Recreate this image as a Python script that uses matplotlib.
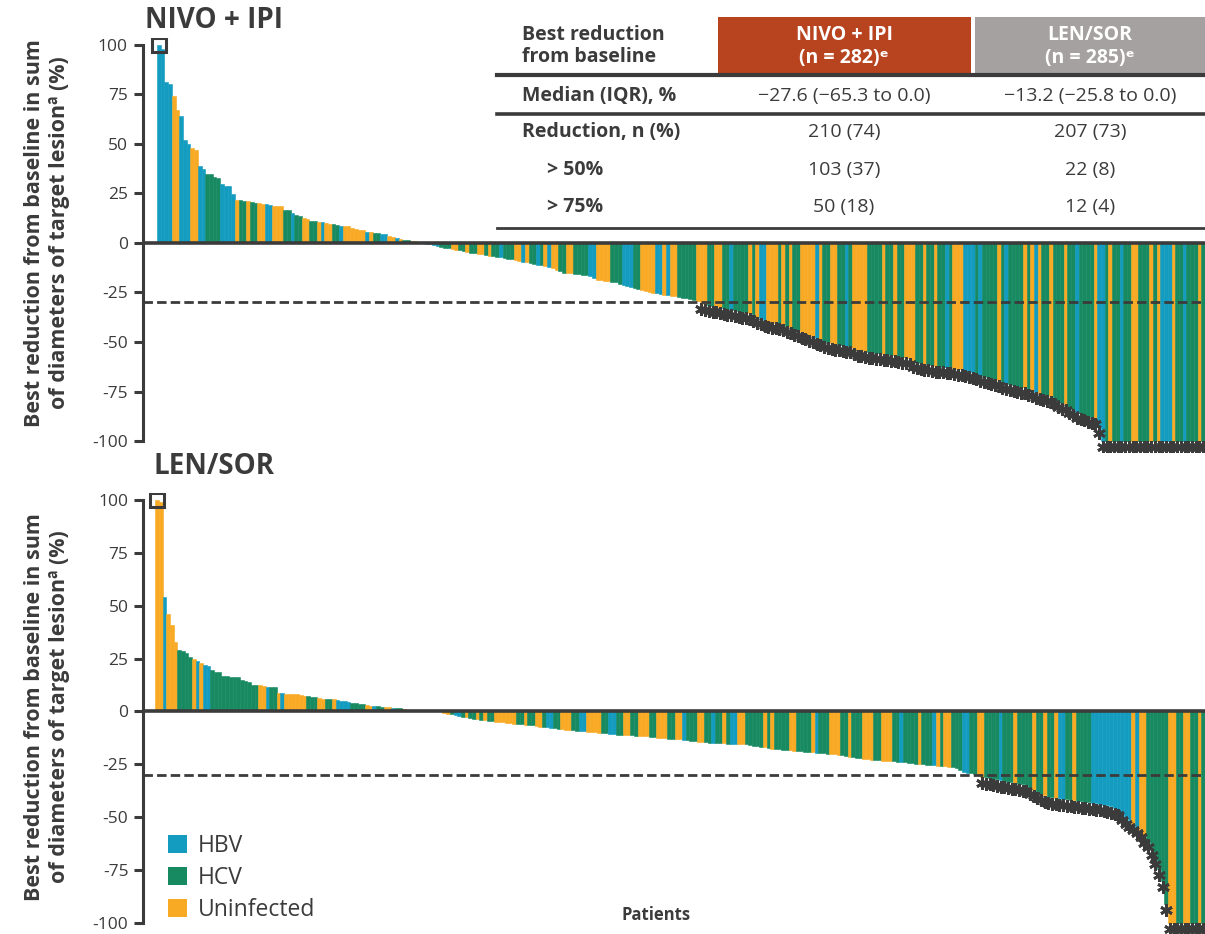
import matplotlib
matplotlib.use("Agg")
import matplotlib.pyplot as plt
from matplotlib.patches import Patch, Rectangle
from matplotlib.lines import Line2D
import numpy as np

plt.rcParams['font.family'] = ['Open Sans', 'DejaVu Sans']
plt.rcParams['axes.unicode_minus'] = False

W, H = 1205, 934
DARK = '#3b3b3b'


def fx(x):
    return x / W


def fy(y):
    return 1 - y / H


# ---------------- data ----------------
infection_labels = ['HBV', 'HCV', 'Uninfected']
infection_codes = ['H', 'C', 'U']
infection_colors = ['#139CBF', '#178A62', '#F8AA25']

ytick_values = [100, 75, 50, 25, 0, -25, -50, -75, -100]
ytick_labels = ['100', '75', '50', '25', '0', '-25', '-50', '-75', '-100']
response_threshold = -30
cap_value = 100

panel_titles = ['NIVO + IPI', 'LEN/SOR']
ylabel_text = 'Best reduction from baseline in sum\nof diameters of target lesionª (%)'
xlabel_text = 'Patients'

# NIVO + IPI best change from baseline (%), sorted, one per patient
nivo_values = [
    100, 98, 81, 80, 74, 67, 64, 52, 50, 47.6,
    47, 38.7, 37, 34.7, 34.5, 33, 32.5, 29.6, 28.8, 28.5,
    24.6, 21.5, 21.5, 21.3, 20.9, 20.4, 20.2, 19.9, 19.8, 19.5,
    19.3, 18.7, 18.6, 18.5, 16.7, 16.5, 14.8, 14, 13.5, 12.3,
    12, 11.1, 11, 10.6, 10.3, 9.8, 9.7, 9.7, 9, 8.6,
    8.5, 8.3, 7.4, 7.2, 6.6, 6.4, 5.6, 5.5, 5.2, 5.0,
    4.4, 4.3, 3.2, 3.0, 2.4, 1.7, 1.6, 1.2, 1.0, 0.9,
    0, 0, -0.5, -0.8, -1.2, -1.5, -2.0, -2.5, -2.8, -3.2,
    -3.5, -3.8, -4.2, -4.6, -5.0, -5.3, -5.6, -5.8, -6.1, -6.4,
    -6.8, -7.1, -7.4, -7.8, -8.1, -8.4, -8.7, -9.1, -9.5, -9.9,
    -10.3, -10.6, -11.0, -11.4, -11.7, -12.0, -12.8, -13.5, -14.3, -15.0,
    -15.2, -15.4, -15.7, -15.9, -16.2, -16.4, -16.7, -17.8, -18.7, -19.0,
    -19.3, -19.5, -19.8, -20.0, -20.6, -21.2, -21.8, -22.4, -23.0, -23.4,
    -23.9, -24.3, -24.7, -25.1, -25.4, -25.8, -26.1, -26.4, -26.7, -27.0,
    -27.3, -27.6, -28.0, -28.4, -28.7, -29.5, -30.4, -30.9, -31.3, -31.7,
    -32.0, -32.4, -32.8, -33.2, -33.6, -34.0, -34.4, -34.8, -35.1, -35.5,
    -36.3, -37.2, -38.1, -39.0, -39.4, -39.8, -40.2, -40.6, -41.0, -41.8,
    -42.5, -43.3, -44.0, -44.8, -45.5, -46.3, -47.0, -47.8, -48.6, -49.4,
    -50.2, -50.6, -51.0, -51.3, -51.6, -51.9, -52.3, -53.2, -54.0, -54.3,
    -54.6, -54.9, -55.1, -55.4, -55.7, -55.9, -56.2, -56.5, -56.8, -57.1,
    -57.4, -57.7, -58.2, -59.6, -60.1, -60.5, -60.9, -61.3, -61.7, -61.9,
    -62.2, -62.4, -62.7, -62.9, -63.2, -63.5, -63.8, -64.1, -64.7, -65.3,
    -65.9, -66.5, -67.1, -67.6, -68.2, -68.8, -69.4, -70.0, -70.6, -71.2,
    -71.7, -72.1, -72.5, -72.9, -73.6, -74.3, -75.1, -75.8, -76.3, -76.8,
    -77.4, -78.5, -79.6, -80.6, -81.5, -82.7, -83.9, -85.1, -86.0, -86.6,
    -87.2, -87.8, -88.4, -93.0, -100, -100, -100, -100, -100, -100,
    -100, -100, -100, -100, -100, -100, -100, -100, -100, -100,
    -100, -100, -100, -100, -100, -100, -100, -100, -100, -100,
    -100, -100,
]
nivo_groups = (
    "HHHHUUHHHU" "UHHCCCCHHH" "HUCCUCCUUH" "HUUUCCHCCU" "UCCUHUUCCH"
    "UUUUUUHUCC" "HHUUHUCCUU" "CU"
    "HHHHCCCUUCCUCCU"
    "UCU" "CC" "H" "CCC" "UU" "HU" "CC" "H" "C" "U" "H" "UU" "CC" "UU"
    "CCCC" "HH" "UUUU" "CCC" "HHH" "CC" "UUUU" "HH" "U" "H" "UU" "CCCCC"
    "UUU" "CC" "UU" "CC" "H" "CCCC" "U" "C" "U" "HH" "UUU" "C" "U" "C"
    "U" "CC" "UUUU" "H" "U" "CC" "UU" "C"
    "CH" "C" "UUUU" "CCCC" "U" "CC" "U" "CC" "UUU" "CC" "U" "CC" "U" "CC"
    "HC" "UUU" "HHH" "C" "H" "CCCC" "U" "C" "H" "CCCC" "U" "C" "U" "H" "U"
    "CC" "U" "CCC" "U" "CC" "H" "CCCC" "U" "HH" "C" "U" "CC" "H" "CC" "UU"
    "CCC" "U" "C" "U" "HHH" "U" "CC" "H" "CCC" "U" "C"
)

# LEN/SOR best change from baseline (%), sorted, one per patient
lensor_values = [
    100, 99, 53.9, 46, 40.8, 32.9, 28.9, 28.5, 27.8, 25.8,
    24.6, 24, 22.9, 21.8, 21.5, 19.7, 18.8, 18.6, 17, 17,
    16.5, 16.3, 16.2, 14.7, 14.2, 13.9, 12.6, 12.5, 12.3, 12.2,
    11.5, 11.5, 11.4, 8.8, 8.7, 8.5, 8.4, 8.3, 8.2, 7.6,
    7.5, 7.1, 7.0, 6.9, 6.3, 6.1, 5.9, 5.7, 5.7, 5.2,
    5.0, 4.8, 4.7, 4.2, 3.8, 3.6, 3.4, 3.0, 2.8, 2.6,
    2.5, 2.3, 2.0, 1.9, 1.7, 1.6, 1.5, 1.0, 0.9, 0.7,
    0.5, 0, 0, 0, 0, 0, 0, 0, -0.6, -1.0,
    -1.4, -1.8, -2.1, -2.5, -2.8, -3.1, -3.4, -3.7, -3.9, -4.1,
    -4.3, -4.6, -4.8, -5.0, -5.2, -5.4, -5.5, -5.7, -5.9, -6.1,
    -6.3, -6.4, -6.6, -6.8, -7.1, -7.3, -7.5, -7.7, -7.9, -8.2,
    -8.4, -8.6, -8.8, -8.9, -9.1, -9.3, -9.4, -9.6, -9.7, -9.9,
    -10.1, -10.3, -10.4, -10.6, -10.8, -10.9, -11.0, -11.1, -11.2, -11.3,
    -11.4, -11.5, -11.6, -11.7, -11.9, -12.1, -12.3, -12.5, -12.6, -12.8,
    -12.9, -13.1, -13.2, -13.5, -13.7, -13.9, -14.0, -14.2, -14.3, -14.5,
    -14.7, -14.8, -14.9, -15.0, -15.1, -15.2, -15.3, -15.4, -15.5, -15.5,
    -15.6, -15.9, -16.2, -16.5, -16.8, -17.0, -17.3, -17.5, -17.6, -17.8,
    -18.0, -18.2, -18.3, -18.5, -18.7, -18.8, -19.0, -19.1, -19.3, -19.4,
    -19.6, -19.7, -19.9, -20.0, -20.3, -20.5, -20.8, -21.0, -21.3, -21.5,
    -21.8, -22.0, -22.3, -22.5, -22.8, -23.0, -23.1, -23.2, -23.3, -23.4,
    -23.6, -23.7, -23.9, -24.0, -24.2, -24.4, -24.6, -24.8, -24.9, -25.1,
    -25.3, -25.5, -25.6, -25.8, -26.0, -26.2, -26.4, -26.7, -27.6, -28.6,
    -28.9, -29.3, -29.6, -29.9, -30.8, -31.1, -31.5, -31.8, -32.1, -32.5,
    -32.8, -33.2, -33.5, -33.8, -34.2, -34.5, -34.8, -36.0, -37.0, -38.0,
    -38.9, -39.7, -40.4, -40.6, -40.8, -41.0, -41.3, -41.5, -41.8, -42.0,
    -42.3, -42.5, -42.8, -43.0, -43.2, -43.5, -43.7, -44.0, -44.4, -44.9,
    -45.4, -46.0, -48.5, -50.2, -51.5, -53.0, -54.5, -56.5, -59.0, -61.0,
    -65.0, -69.0, -74.5, -80.0, -91.0, -100, -100, -100, -100, -100,
    -100, -100, -100, -100, -100,
]
lensor_groups = (
    "UUHUUUCCCC" "UHUHHCCCCC" "CCCCCCCCUU" "HCCUHUUUUU" "UCCCUUCCUH"
    "HHHCCCCUUH" "CCUUHCCUUU" "U"
    "UCUCHUC"
    "UUCHHCUCCU"
    "C" "U" "CC" "UUUUUU" "CC" "U" "CC" "UU" "C" "HH" "CC" "UUU" "CC" "HH"
    "UUUU" "CC" "HH" "CC" "UU" "CC" "U" "UU" "CC" "UUU" "CC" "UU" "H" "CCC"
    "UU" "CC" "H" "CC" "U" "C" "HH" "UU" "CCCCC" "U" "C" "U" "CCCC" "UU"
    "CCCC" "U" "H" "CCC" "UUU" "CC" "U" "CCC" "UUU" "C"
    "C" "UUU" "CC" "H" "CCCC" "U" "CCC" "H" "U" "C" "UU" "CCC" "HH" "CC"
    "UU" "CCCC" "H" "CCC" "U" "CCCC" "U" "CC" "U" "CC" "U" "HH" "CC" "U"
    "CCCC" "HHHHHHHHHHH" "U" "H" "UU" "CCCCCC" "UU" "CC" "UU" "CC" "U" "C"
)

table_corner = 'Best reduction\nfrom baseline'
table_headers = ['NIVO + IPI\n(n = 282)ᵉ', 'LEN/SOR\n(n = 285)ᵉ']
table_header_colors = ['#B8431F', '#A6A1A1']
table_row_labels = ['Median (IQR), %', 'Reduction, n (%)', '> 50%', '> 75%']
table_nivo = ['−27.6 (−65.3 to 0.0)', '210 (74)', '103 (37)', '50 (18)']
table_lensor = ['−13.2 (−25.8 to 0.0)', '207 (73)', '22 (8)', '12 (4)']

assert len(nivo_values) == len(nivo_groups), (len(nivo_values), len(nivo_groups))
assert len(lensor_values) == len(lensor_groups), (len(lensor_values), len(lensor_groups))

color_map = dict(zip(infection_codes, infection_colors))

# ---------------- figure ----------------
fig = plt.figure(figsize=(W / 100, H / 100), dpi=100)

ax_top = fig.add_axes([fx(142.5), fy(452), 1 - fx(142.5), (452 - 38) / H])
ax_bot = fig.add_axes([fx(143), fy(934), 1 - fx(143), (934 - 493) / H])

panels = [
    (ax_top, nivo_values, nivo_groups, (-4.4, 281.5), (-105.5, 103.3)),
    (ax_bot, lensor_values, lensor_groups, (-3.8, 284.5), (-105.2, 103.3)),
]

for ax, values, groups, xlim, ylim in panels:
    vals = np.array(values, dtype=float)
    x = np.arange(len(vals))
    cols = [color_map[g] for g in groups]
    ax.bar(x, vals, width=1.0, color=cols, edgecolor=cols, linewidth=0.4, zorder=2)
    ax.axhline(0, color=DARK, lw=2.6, zorder=4)
    ax.axhline(response_threshold, color=DARK, lw=2.0, dashes=(3.4, 1.5), zorder=4)
    resp = vals <= response_threshold
    ax.plot(x[resp], vals[resp] - 3.0, ls='none', marker=(6, 2, 0), ms=9,
            mew=2.0, color=DARK, zorder=5)
    capped = vals >= cap_value
    ax.plot(x[capped][:1], vals[capped][:1], ls='none', marker='s', ms=10.5,
            mfc='none', mec=DARK, mew=2.2, zorder=5)
    ax.set_xlim(*xlim)
    ax.set_ylim(*ylim)
    for s in ['top', 'right', 'bottom']:
        ax.spines[s].set_visible(False)
    ax.spines['left'].set_bounds(-100, 100)
    ax.spines['left'].set_linewidth(2.2)
    ax.spines['left'].set_color(DARK)
    ax.set_xticks([])
    ax.set_yticks(ytick_values)
    ax.set_yticklabels(ytick_labels)
    ax.tick_params(axis='y', length=6.5, width=2.2, color=DARK, labelsize=12.5,
                   labelcolor=DARK, pad=4)
    ax.patch.set_alpha(0)

# panel titles
fig.text(fx(145), fy(21), panel_titles[0], fontsize=20, fontweight='bold',
         color=DARK, ha='left', va='center')
fig.text(fx(153), fy(466), panel_titles[1], fontsize=20, fontweight='bold',
         color=DARK, ha='left', va='center')

# y labels
for yc in (233, 707):
    fig.text(fx(47), fy(yc), ylabel_text, rotation=90, fontsize=15.5,
             fontweight='bold', color=DARK, ha='center', va='center',
             multialignment='center', linespacing=1.3)

# x label
fig.text(fx(656), fy(915), xlabel_text, fontsize=12, fontweight='bold',
         color=DARK, ha='center', va='center')

# legend
handles = [Patch(facecolor=c, edgecolor='none') for c in infection_colors]
ax_bot.legend(handles, infection_labels, loc='upper left',
              bbox_to_anchor=(fx(168), fy(834)), bbox_transform=fig.transFigure,
              frameon=False, fontsize=16.5, handlelength=0.85, handleheight=0.85,
              handletextpad=0.45, labelspacing=0.35, borderpad=0, borderaxespad=0,
              labelcolor=DARK)

# table
TFS = 14
for (x0, x1), hdr, hc, xc in zip([(718, 971), (975, 1205)], table_headers,
                                 table_header_colors, [844, 1090]):
    fig.add_artist(Rectangle((fx(x0), fy(73)), fx(x1) - fx(x0), (73 - 17) / H,
                             transform=fig.transFigure, facecolor=hc,
                             edgecolor='none'))
    fig.text(fx(xc), fy(46), hdr, fontsize=TFS, fontweight='bold', color='white',
             ha='center', va='center', linespacing=1.2)
fig.text(fx(522), fy(46), table_corner, fontsize=TFS, fontweight='bold',
         color=DARK, ha='left', va='center', linespacing=1.2)

for yl, lw in [(75, 3.0), (114, 2.6), (228, 2.0)]:
    fig.add_artist(Line2D([fx(497), fx(1205)], [fy(yl), fy(yl)],
                          transform=fig.transFigure, color=DARK, lw=lw))

row_y = [96, 132, 170, 207]
row_x = [522, 522, 547, 547]
for lab, vn, vl, yy, xx in zip(table_row_labels, table_nivo, table_lensor, row_y, row_x):
    fig.text(fx(xx), fy(yy), lab, fontsize=TFS, fontweight='bold', color=DARK,
             ha='left', va='center')
    fig.text(fx(844), fy(yy), vn, fontsize=TFS, color=DARK, ha='center', va='center')
    fig.text(fx(1090), fy(yy), vl, fontsize=TFS, color=DARK, ha='center', va='center')

fig.savefig('out.png', dpi=100)
